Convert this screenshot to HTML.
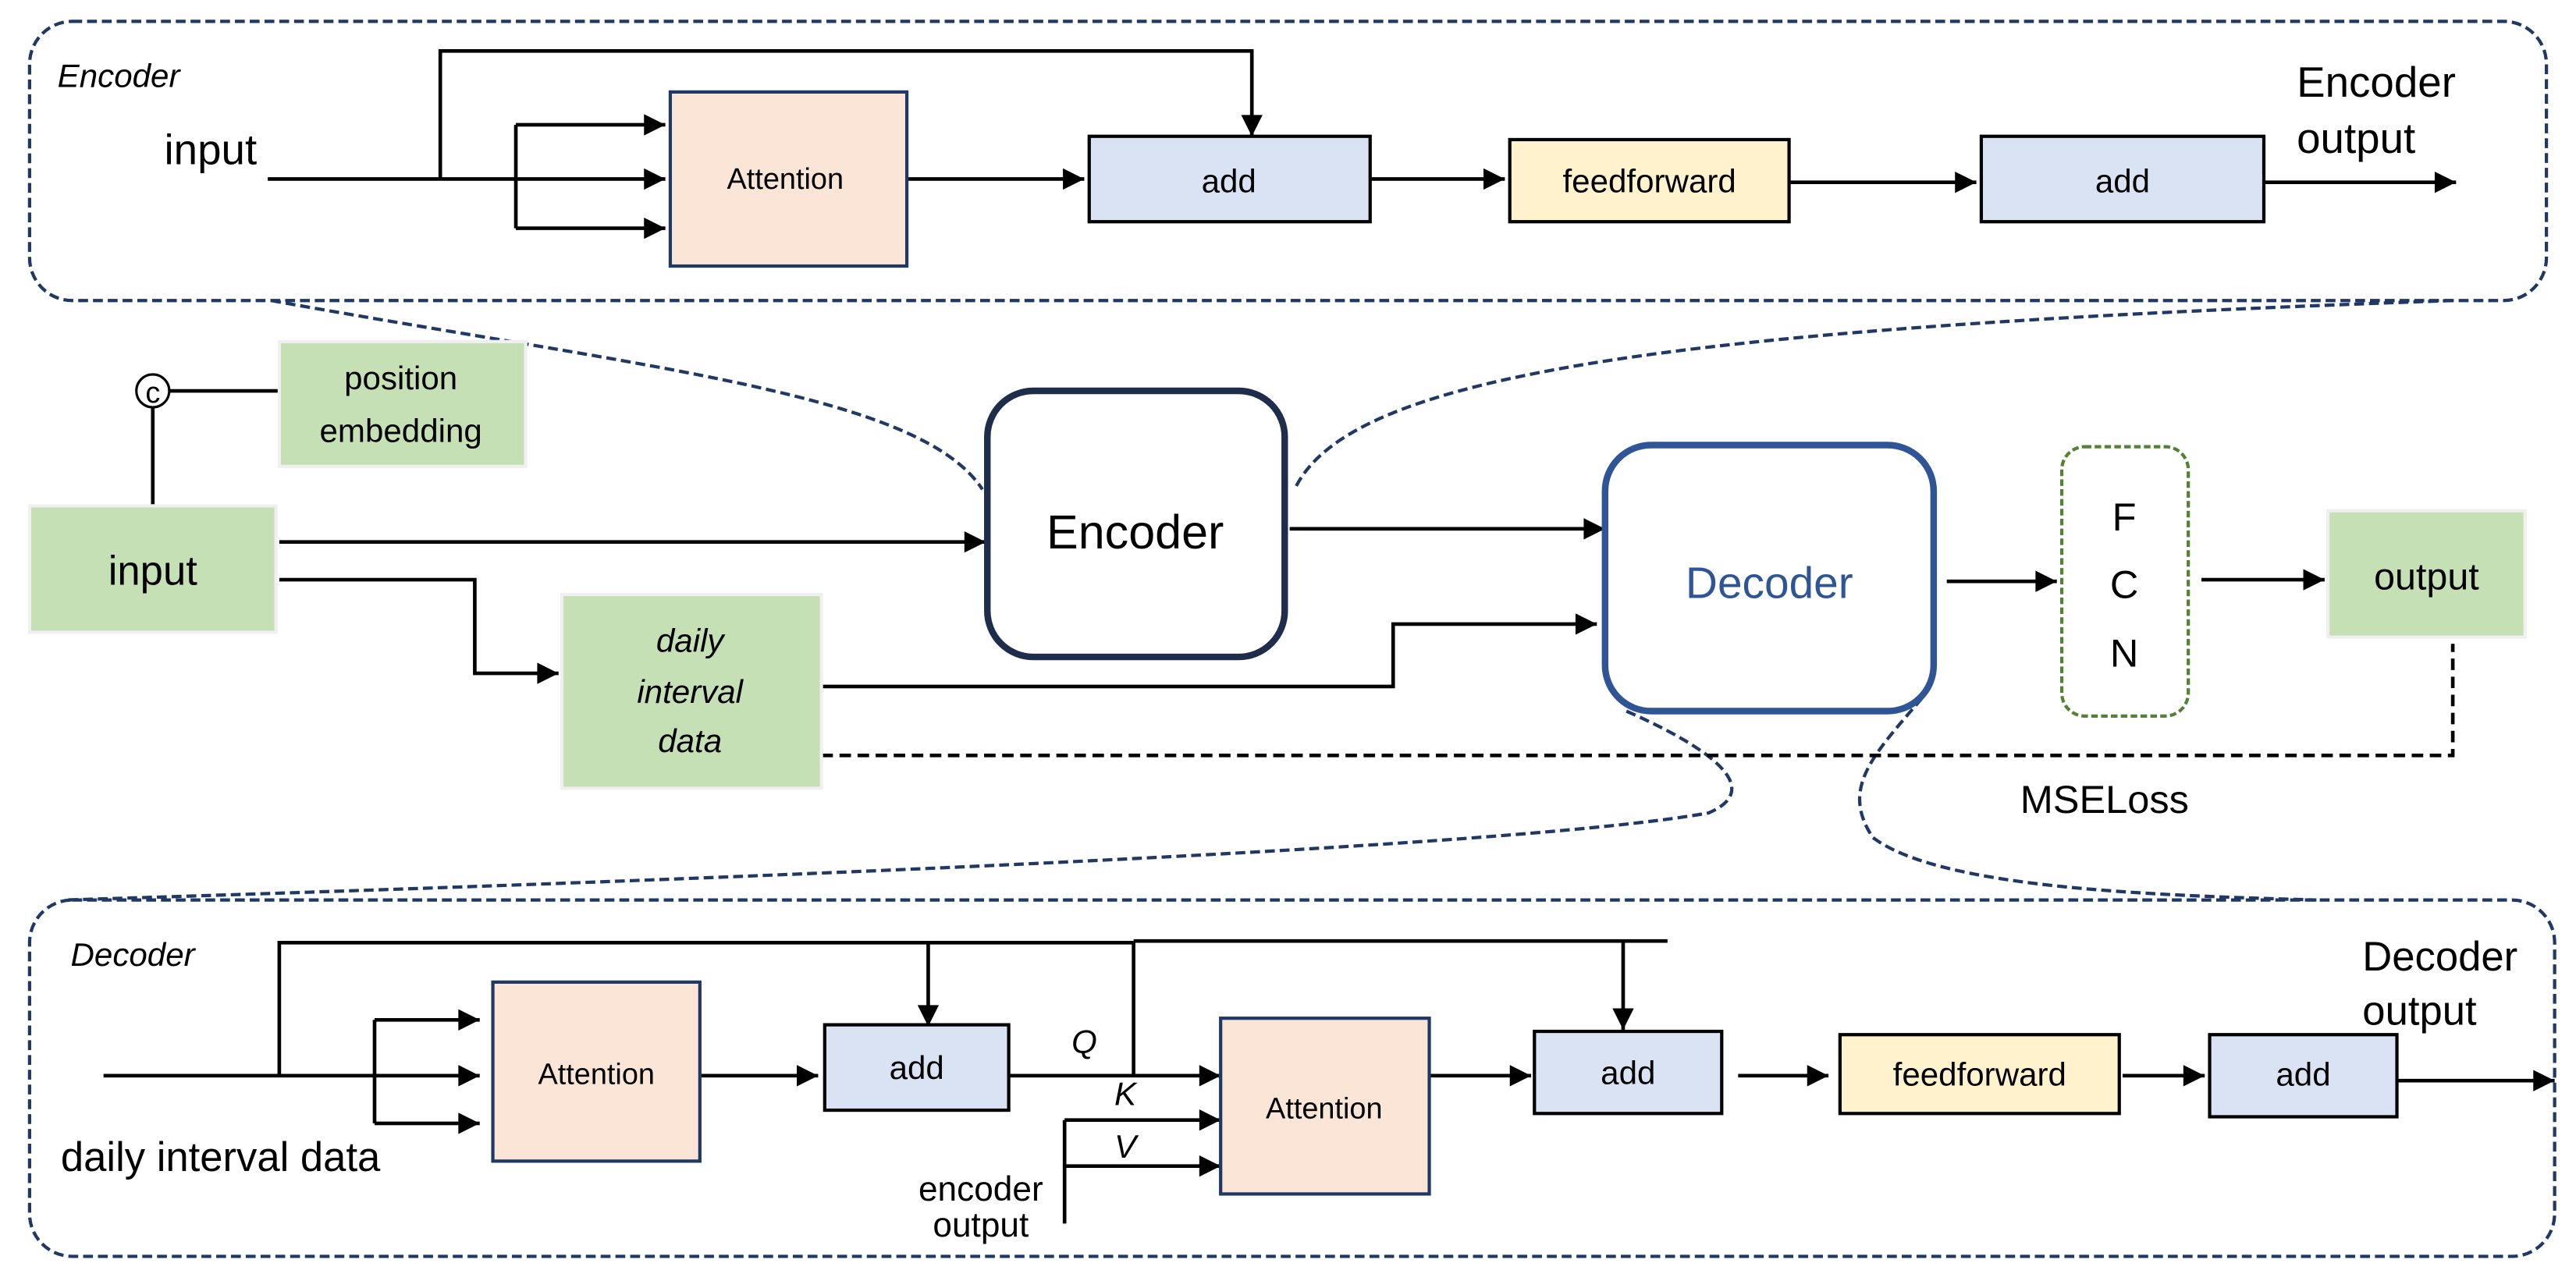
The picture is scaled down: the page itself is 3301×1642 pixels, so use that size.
<!DOCTYPE html>
<html><head><meta charset="utf-8"><style>html,body{margin:0;padding:0;background:#fff}svg{display:block}</style></head>
<body>
<svg width="3301" height="1642" viewBox="0 0 1568 780" preserveAspectRatio="none" xmlns="http://www.w3.org/2000/svg" font-family="Liberation Sans, sans-serif">
<defs>
<marker id="b" viewBox="0 0 10 10" refX="10" refY="5" markerWidth="14" markerHeight="13" orient="auto" markerUnits="userSpaceOnUse"><path d="M0,0 L10,5 L0,10z" fill="#000"/></marker>
</defs>
<g fill="none" stroke="#1f3864" stroke-width="2" stroke-dasharray="6,3">
<rect x="18" y="13" width="1532" height="170" rx="26"/>
<rect x="18" y="548" width="1537" height="217" rx="26"/>
<path d="M165,183 C400,225 560,240 598,298"/>
<path d="M1493,183 C1000,200 820,230 788,298"/>
<path d="M990,433 C1040,455 1075,480 1040,495 C900,520 300,540 40,548"/>
<path d="M1170,425 C1140,460 1120,480 1140,510 C1180,540 1300,545 1410,548"/>
</g>
<g stroke="#000" stroke-width="2.2" fill="none">
<path d="M163,109 H405" marker-end="url(#b)"/>
<path d="M268,109 V31 H762 V83" marker-end="url(#b)"/>
<path d="M314,76 V139"/>
<path d="M314,76 H405" marker-end="url(#b)"/>
<path d="M314,139 H405" marker-end="url(#b)"/>
<path d="M552,109 H660" marker-end="url(#b)"/>
<path d="M834,109 H916" marker-end="url(#b)"/>
<path d="M1089,111 H1203" marker-end="url(#b)"/>
<path d="M1378,111 H1495" marker-end="url(#b)"/>
<path d="M103,238 H172"/>
<path d="M93,248 V310"/>
<path d="M170,330 H600" marker-end="url(#b)"/>
<path d="M170,353 H289 V410 H340" marker-end="url(#b)"/>
<path d="M500,418 H848 V380 H972" marker-end="url(#b)"/>
<path d="M785,322 H977" marker-end="url(#b)"/>
<path d="M1185,354 H1252" marker-end="url(#b)"/>
<path d="M1340,353 H1415" marker-end="url(#b)"/>
<path d="M500,460 H1493 V392" stroke-dasharray="7,4"/>
<path d="M63,655 H292" marker-end="url(#b)"/>
<path d="M170,655 V574 H690"/>
<path d="M565,574 V625" marker-end="url(#b)"/>
<path d="M690,574 V655"/>
<path d="M690,573 H1015"/>
<path d="M988,573 V627" marker-end="url(#b)"/>
<path d="M228,621 V684"/>
<path d="M228,621 H292" marker-end="url(#b)"/>
<path d="M228,684 H292" marker-end="url(#b)"/>
<path d="M426,655 H498" marker-end="url(#b)"/>
<path d="M614,655 H743" marker-end="url(#b)"/>
<path d="M648,682 V745"/>
<path d="M648,682 H743" marker-end="url(#b)"/>
<path d="M648,710 H743" marker-end="url(#b)"/>
<path d="M870,655 H932" marker-end="url(#b)"/>
<path d="M1058,655 H1113" marker-end="url(#b)"/>
<path d="M1292,655 H1342" marker-end="url(#b)"/>
<path d="M1459,658 H1555" marker-end="url(#b)"/>
</g>
<g stroke-width="2">
<rect x="408" y="56" width="144" height="106" fill="#fae5d7" stroke="#1f3864"/>
<rect x="663" y="83" width="171" height="52" fill="#dae3f3" stroke="#000"/>
<rect x="919" y="85" width="170" height="50" fill="#fff2cc" stroke="#000"/>
<rect x="1206" y="83" width="172" height="52" fill="#dae3f3" stroke="#000"/>
<rect x="170" y="208" width="150" height="76" fill="#c5e0b4" stroke="#f0f0f0"/>
<rect x="18" y="308" width="150" height="77" fill="#c5e0b4" stroke="#f0f0f0"/>
<rect x="342" y="362" width="158" height="118" fill="#c5e0b4" stroke="#f0f0f0"/>
<rect x="1417" y="311" width="120" height="77" fill="#c5e0b4" stroke="#f0f0f0"/>
<rect x="601" y="238" width="181" height="162" rx="28" fill="#fff" stroke="#1f2d4d" stroke-width="4"/>
<rect x="977" y="271" width="200" height="162" rx="28" fill="#fff" stroke="#2f5597" stroke-width="4"/>
<rect x="1255" y="272" width="77" height="164" rx="14" fill="#fff" stroke="#548235" stroke-dasharray="4,2"/>
<rect x="300" y="598" width="126" height="109" fill="#fae5d7" stroke="#1f3864"/>
<rect x="502" y="624" width="112" height="52" fill="#dae3f3" stroke="#000"/>
<rect x="743" y="620" width="127" height="107" fill="#fae5d7" stroke="#1f3864"/>
<rect x="934" y="628" width="114" height="50" fill="#dae3f3" stroke="#000"/>
<rect x="1120" y="630" width="170" height="48" fill="#fff2cc" stroke="#000"/>
<rect x="1345" y="630" width="114" height="50" fill="#dae3f3" stroke="#000"/>
<circle cx="93" cy="238" r="10" fill="#fff" stroke="#000" stroke-width="1.5"/>
</g>
<g fill="#000" text-anchor="middle">
<text x="93" y="245" font-size="18">c</text>
<text x="35" y="53" font-size="20" font-style="italic" text-anchor="start">Encoder</text>
<text x="100" y="100" font-size="26" text-anchor="start">input</text>
<text x="478" y="115" font-size="18">Attention</text>
<text x="748" y="117" font-size="20">add</text>
<text x="1004" y="117" font-size="20">feedforward</text>
<text x="1292" y="117" font-size="20">add</text>
<text x="1398" y="59" font-size="26" text-anchor="start">Encoder</text>
<text x="1398" y="93" font-size="26" text-anchor="start">output</text>
<text x="244" y="237" font-size="20">position</text>
<text x="244" y="269" font-size="20">embedding</text>
<text x="93" y="356" font-size="25">input</text>
<text x="420" y="397" font-size="20" font-style="italic">daily</text>
<text x="420" y="428" font-size="20" font-style="italic">interval</text>
<text x="420" y="458" font-size="20" font-style="italic">data</text>
<text x="691" y="334" font-size="29">Encoder</text>
<text x="1077" y="364" font-size="27" fill="#2f5597">Decoder</text>
<text x="1293" y="323" font-size="24">F</text>
<text x="1293" y="364" font-size="24">C</text>
<text x="1293" y="406" font-size="24">N</text>
<text x="1477" y="359" font-size="23">output</text>
<text x="1281" y="495" font-size="24">MSELoss</text>
<text x="43" y="588" font-size="20" font-style="italic" text-anchor="start">Decoder</text>
<text x="363" y="660" font-size="18">Attention</text>
<text x="558" y="657" font-size="20">add</text>
<text x="660" y="641" font-size="20" font-style="italic">Q</text>
<text x="685" y="673" font-size="20" font-style="italic">K</text>
<text x="685" y="705" font-size="20" font-style="italic">V</text>
<text x="806" y="681" font-size="18">Attention</text>
<text x="991" y="660" font-size="20">add</text>
<text x="1205" y="661" font-size="20">feedforward</text>
<text x="1402" y="661" font-size="20">add</text>
<text x="1438" y="591" font-size="25" text-anchor="start">Decoder</text>
<text x="1438" y="624" font-size="25" text-anchor="start">output</text>
<text x="37" y="713" font-size="25" text-anchor="start">daily interval data</text>
<text x="597" y="731" font-size="21">encoder</text>
<text x="597" y="753" font-size="21">output</text>
</g>
</svg>
</body></html>
